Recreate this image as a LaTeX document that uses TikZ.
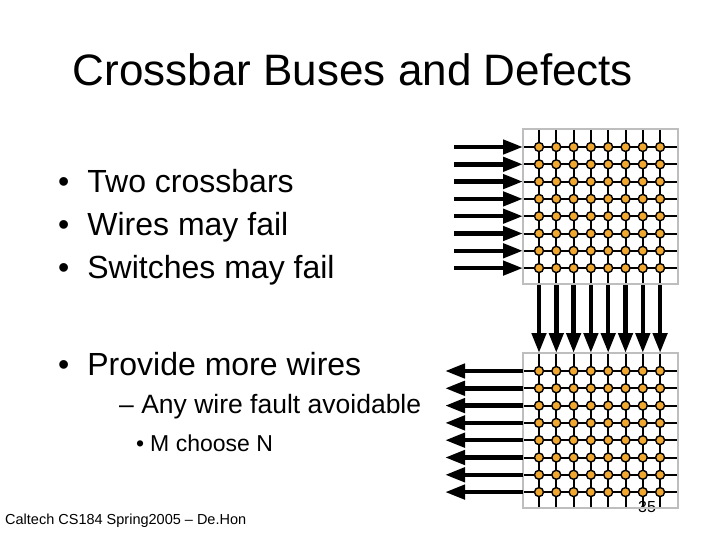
\documentclass[tikz,border=0pt]{standalone}
\usepackage{fontspec}
\setmainfont{Liberation Sans}
\usetikzlibrary{arrows.meta}
\begin{document}
\begin{tikzpicture}[x=1pt,y=-1pt,
  txt/.style={anchor=west,inner sep=0pt},
  fat/.style={line width=4.5pt,-{Triangle[length=20pt,width=14pt]}},
  wire/.style={line width=2pt},
  sw/.style={circle,fill={rgb,255:red,240;green,168;blue,48},draw=black,line width=1.4pt,inner sep=0pt,minimum size=9pt},
  frame/.style={draw={rgb,255:red,190;green,190;blue,190},line width=1.5pt}]
\useasboundingbox[fill=white] (0,0) rectangle (720,540);
\node[inner sep=0pt] (title) at (353,70) {\fontsize{44}{46}\selectfont Crossbar Buses and Defects};
\node[txt] (b1) at (58,181) {\fontsize{32}{34}\selectfont •\hspace{18pt}Two crossbars};
\node[txt] (b2) at (58,227) {\fontsize{32}{34}\selectfont •\hspace{18pt}Wires may fail};
\node[txt] (b3) at (58,270) {\fontsize{32}{34}\selectfont •\hspace{18pt}Switches may fail};
\node[txt] (b4) at (58,364) {\fontsize{32}{34}\selectfont •\hspace{18pt}Provide more wires};
\node[txt] (s1) at (119,407) {\fontsize{26.5}{28}\selectfont – Any wire fault avoidable};
\node[txt] (s2) at (136,443) {\fontsize{23}{25}\selectfont •\hspace{6pt}M choose N};
\node[txt] (foot) at (5,521) {\fontsize{14.5}{16}\selectfont Caltech CS184 Spring2005 -- De.Hon};
\node[txt] (num) at (638,507) {\fontsize{16}{18}\selectfont 35};
\foreach \yy/\nm in {129/t,353/b}{
  \pgfmathsetmacro{\ybot}{\yy+155}
  \foreach \i in {0,...,7}{
    \pgfmathsetmacro{\r}{\yy+18+\i*17.3}
    \pgfmathsetmacro{\c}{539+\i*17.3}
    \draw[wire] (523,\r) -- (678,\r);
    \draw[wire] (\c,\yy) -- (\c,\ybot);
  }
  \foreach \i in {0,...,7}{\foreach \j in {0,...,7}{
    \node[sw] (\nm\i\j) at (539+\j*17.3,\yy+18+\i*17.3) {};
  }}
  \draw[frame] (523,\yy) rectangle (678,\ybot);
}
\foreach \i in {0,...,7}{
  \pgfmathsetmacro{\r}{147+\i*17.3}
  \coordinate (in\i) at (454,\r);
  \coordinate (ie\i) at (523,\r);
  \draw[fat] (in\i) -- (ie\i);
  \pgfmathsetmacro{\rb}{371+\i*17.3}
  \coordinate (os\i) at (523,\rb);
  \coordinate (oe\i) at (445,\rb);
  \draw[fat] (os\i) -- (oe\i);
  \pgfmathsetmacro{\c}{539+\i*17.3}
  \coordinate (ds\i) at (\c,285);
  \coordinate (de\i) at (\c,353);
  \draw[fat] (ds\i) -- (de\i);
}
\end{tikzpicture}
\end{document}
